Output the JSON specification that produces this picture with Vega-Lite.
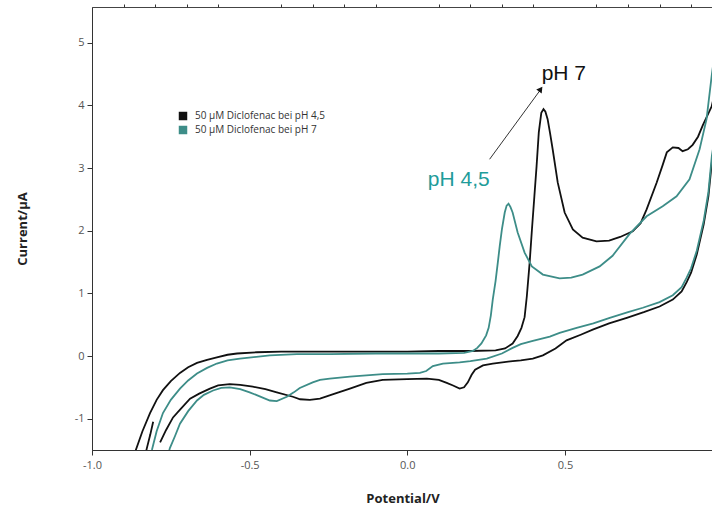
{
  "$schema": "https://vega.github.io/schema/vega-lite/v6.json",
  "autosize": {"type": "none"},
  "padding": {"left": 92, "top": 7, "right": 0, "bottom": 61},
  "width": 621,
  "height": 443,
  "config": {
    "view": {"stroke": "#444", "strokeWidth": 1},
    "axis": {"labelFont": "Open Sans", "labelFontSize": 11, "labelColor": "#555", "titleFont": "Open Sans", "titleFontSize": 13, "titleFontWeight": "bold", "titleColor": "#222", "domainColor": "#333", "tickColor": "#333", "grid": false, "labelOverlap": false, "labelFlush": false}
  },
  "resolve": {"axis": {"x": "independent", "y": "independent"}},
  "datasets": {
    "cv": [
      {"s":"50 µM Diclofenac bei pH 4,5","i":1,"x":-0.806,"y":-1.05},
      {"s":"50 µM Diclofenac bei pH 4,5","i":2,"x":-0.815,"y":-1.25},
      {"s":"50 µM Diclofenac bei pH 4,5","i":3,"x":-0.826,"y":-1.47},
      {"s":"50 µM Diclofenac bei pH 4,5","i":4,"x":-0.833,"y":-1.62},
      {"s":"50 µM Diclofenac bei pH 4,5","i":5,"x":-0.85,"y":-1.8},
      {"s":"50 µM Diclofenac bei pH 4,5","i":6,"x":-0.875,"y":-1.8},
      {"s":"50 µM Diclofenac bei pH 4,5","i":7,"x":-0.868,"y":-1.62},
      {"s":"50 µM Diclofenac bei pH 4,5","i":8,"x":-0.861,"y":-1.5},
      {"s":"50 µM Diclofenac bei pH 4,5","i":9,"x":-0.84,"y":-1.2},
      {"s":"50 µM Diclofenac bei pH 4,5","i":10,"x":-0.816,"y":-0.91},
      {"s":"50 µM Diclofenac bei pH 4,5","i":11,"x":-0.795,"y":-0.7},
      {"s":"50 µM Diclofenac bei pH 4,5","i":12,"x":-0.775,"y":-0.545},
      {"s":"50 µM Diclofenac bei pH 4,5","i":13,"x":-0.75,"y":-0.4},
      {"s":"50 µM Diclofenac bei pH 4,5","i":14,"x":-0.721,"y":-0.27},
      {"s":"50 µM Diclofenac bei pH 4,5","i":15,"x":-0.695,"y":-0.18},
      {"s":"50 µM Diclofenac bei pH 4,5","i":16,"x":-0.667,"y":-0.11},
      {"s":"50 µM Diclofenac bei pH 4,5","i":17,"x":-0.635,"y":-0.06},
      {"s":"50 µM Diclofenac bei pH 4,5","i":18,"x":-0.604,"y":-0.02},
      {"s":"50 µM Diclofenac bei pH 4,5","i":19,"x":-0.57,"y":0.02},
      {"s":"50 µM Diclofenac bei pH 4,5","i":20,"x":-0.54,"y":0.04},
      {"s":"50 µM Diclofenac bei pH 4,5","i":21,"x":-0.477,"y":0.06},
      {"s":"50 µM Diclofenac bei pH 4,5","i":22,"x":-0.4,"y":0.07},
      {"s":"50 µM Diclofenac bei pH 4,5","i":23,"x":-0.3,"y":0.07},
      {"s":"50 µM Diclofenac bei pH 4,5","i":24,"x":-0.2,"y":0.07},
      {"s":"50 µM Diclofenac bei pH 4,5","i":25,"x":-0.1,"y":0.07},
      {"s":"50 µM Diclofenac bei pH 4,5","i":26,"x":0.0,"y":0.07},
      {"s":"50 µM Diclofenac bei pH 4,5","i":27,"x":0.1,"y":0.08},
      {"s":"50 µM Diclofenac bei pH 4,5","i":28,"x":0.2,"y":0.08},
      {"s":"50 µM Diclofenac bei pH 4,5","i":29,"x":0.28,"y":0.09},
      {"s":"50 µM Diclofenac bei pH 4,5","i":30,"x":0.31,"y":0.12},
      {"s":"50 µM Diclofenac bei pH 4,5","i":31,"x":0.334,"y":0.2},
      {"s":"50 µM Diclofenac bei pH 4,5","i":32,"x":0.35,"y":0.32},
      {"s":"50 µM Diclofenac bei pH 4,5","i":33,"x":0.362,"y":0.45},
      {"s":"50 µM Diclofenac bei pH 4,5","i":34,"x":0.372,"y":0.62},
      {"s":"50 µM Diclofenac bei pH 4,5","i":35,"x":0.379,"y":0.95},
      {"s":"50 µM Diclofenac bei pH 4,5","i":36,"x":0.388,"y":1.49},
      {"s":"50 µM Diclofenac bei pH 4,5","i":37,"x":0.395,"y":2.0},
      {"s":"50 µM Diclofenac bei pH 4,5","i":38,"x":0.403,"y":2.55},
      {"s":"50 µM Diclofenac bei pH 4,5","i":39,"x":0.41,"y":3.03},
      {"s":"50 µM Diclofenac bei pH 4,5","i":40,"x":0.417,"y":3.57},
      {"s":"50 µM Diclofenac bei pH 4,5","i":41,"x":0.425,"y":3.88},
      {"s":"50 µM Diclofenac bei pH 4,5","i":42,"x":0.432,"y":3.94},
      {"s":"50 µM Diclofenac bei pH 4,5","i":43,"x":0.438,"y":3.9},
      {"s":"50 µM Diclofenac bei pH 4,5","i":44,"x":0.445,"y":3.78},
      {"s":"50 µM Diclofenac bei pH 4,5","i":45,"x":0.453,"y":3.55},
      {"s":"50 µM Diclofenac bei pH 4,5","i":46,"x":0.461,"y":3.3},
      {"s":"50 µM Diclofenac bei pH 4,5","i":47,"x":0.477,"y":2.77},
      {"s":"50 µM Diclofenac bei pH 4,5","i":48,"x":0.499,"y":2.29},
      {"s":"50 µM Diclofenac bei pH 4,5","i":49,"x":0.525,"y":2.02},
      {"s":"50 µM Diclofenac bei pH 4,5","i":50,"x":0.556,"y":1.89},
      {"s":"50 µM Diclofenac bei pH 4,5","i":51,"x":0.6,"y":1.83},
      {"s":"50 µM Diclofenac bei pH 4,5","i":52,"x":0.64,"y":1.84},
      {"s":"50 µM Diclofenac bei pH 4,5","i":53,"x":0.675,"y":1.9},
      {"s":"50 µM Diclofenac bei pH 4,5","i":54,"x":0.715,"y":1.99},
      {"s":"50 µM Diclofenac bei pH 4,5","i":55,"x":0.74,"y":2.12},
      {"s":"50 µM Diclofenac bei pH 4,5","i":56,"x":0.759,"y":2.34},
      {"s":"50 µM Diclofenac bei pH 4,5","i":57,"x":0.791,"y":2.77},
      {"s":"50 µM Diclofenac bei pH 4,5","i":58,"x":0.81,"y":3.05},
      {"s":"50 µM Diclofenac bei pH 4,5","i":59,"x":0.823,"y":3.25},
      {"s":"50 µM Diclofenac bei pH 4,5","i":60,"x":0.842,"y":3.33},
      {"s":"50 µM Diclofenac bei pH 4,5","i":61,"x":0.86,"y":3.32},
      {"s":"50 µM Diclofenac bei pH 4,5","i":62,"x":0.873,"y":3.27},
      {"s":"50 µM Diclofenac bei pH 4,5","i":63,"x":0.89,"y":3.3},
      {"s":"50 µM Diclofenac bei pH 4,5","i":64,"x":0.905,"y":3.37},
      {"s":"50 µM Diclofenac bei pH 4,5","i":65,"x":0.922,"y":3.5},
      {"s":"50 µM Diclofenac bei pH 4,5","i":66,"x":0.937,"y":3.68},
      {"s":"50 µM Diclofenac bei pH 4,5","i":67,"x":0.965,"y":3.98},
      {"s":"50 µM Diclofenac bei pH 4,5","i":68,"x":0.99,"y":4.5},
      {"s":"50 µM Diclofenac bei pH 4,5","i":69,"x":1.01,"y":4.0},
      {"s":"50 µM Diclofenac bei pH 4,5","i":70,"x":0.985,"y":3.6},
      {"s":"50 µM Diclofenac bei pH 4,5","i":71,"x":0.966,"y":3.1},
      {"s":"50 µM Diclofenac bei pH 4,5","i":72,"x":0.955,"y":2.55},
      {"s":"50 µM Diclofenac bei pH 4,5","i":73,"x":0.94,"y":2.1},
      {"s":"50 µM Diclofenac bei pH 4,5","i":74,"x":0.918,"y":1.62},
      {"s":"50 µM Diclofenac bei pH 4,5","i":75,"x":0.9,"y":1.33},
      {"s":"50 µM Diclofenac bei pH 4,5","i":76,"x":0.886,"y":1.18},
      {"s":"50 µM Diclofenac bei pH 4,5","i":77,"x":0.87,"y":1.03},
      {"s":"50 µM Diclofenac bei pH 4,5","i":78,"x":0.842,"y":0.9},
      {"s":"50 µM Diclofenac bei pH 4,5","i":79,"x":0.8,"y":0.79},
      {"s":"50 µM Diclofenac bei pH 4,5","i":80,"x":0.75,"y":0.7},
      {"s":"50 µM Diclofenac bei pH 4,5","i":81,"x":0.696,"y":0.61},
      {"s":"50 µM Diclofenac bei pH 4,5","i":82,"x":0.64,"y":0.52},
      {"s":"50 µM Diclofenac bei pH 4,5","i":83,"x":0.588,"y":0.42},
      {"s":"50 µM Diclofenac bei pH 4,5","i":84,"x":0.55,"y":0.34},
      {"s":"50 µM Diclofenac bei pH 4,5","i":85,"x":0.505,"y":0.25},
      {"s":"50 µM Diclofenac bei pH 4,5","i":86,"x":0.47,"y":0.12},
      {"s":"50 µM Diclofenac bei pH 4,5","i":87,"x":0.43,"y":0.01},
      {"s":"50 µM Diclofenac bei pH 4,5","i":88,"x":0.398,"y":-0.04},
      {"s":"50 µM Diclofenac bei pH 4,5","i":89,"x":0.36,"y":-0.07},
      {"s":"50 µM Diclofenac bei pH 4,5","i":90,"x":0.334,"y":-0.08},
      {"s":"50 µM Diclofenac bei pH 4,5","i":91,"x":0.271,"y":-0.12},
      {"s":"50 µM Diclofenac bei pH 4,5","i":92,"x":0.24,"y":-0.15},
      {"s":"50 µM Diclofenac bei pH 4,5","i":93,"x":0.215,"y":-0.22},
      {"s":"50 µM Diclofenac bei pH 4,5","i":94,"x":0.204,"y":-0.3},
      {"s":"50 µM Diclofenac bei pH 4,5","i":95,"x":0.192,"y":-0.42},
      {"s":"50 µM Diclofenac bei pH 4,5","i":96,"x":0.18,"y":-0.5},
      {"s":"50 µM Diclofenac bei pH 4,5","i":97,"x":0.166,"y":-0.52},
      {"s":"50 µM Diclofenac bei pH 4,5","i":98,"x":0.145,"y":-0.47},
      {"s":"50 µM Diclofenac bei pH 4,5","i":99,"x":0.125,"y":-0.43},
      {"s":"50 µM Diclofenac bei pH 4,5","i":100,"x":0.1,"y":-0.38},
      {"s":"50 µM Diclofenac bei pH 4,5","i":101,"x":0.062,"y":-0.36},
      {"s":"50 µM Diclofenac bei pH 4,5","i":102,"x":0.0,"y":-0.37},
      {"s":"50 µM Diclofenac bei pH 4,5","i":103,"x":-0.078,"y":-0.38},
      {"s":"50 µM Diclofenac bei pH 4,5","i":104,"x":-0.13,"y":-0.43},
      {"s":"50 µM Diclofenac bei pH 4,5","i":105,"x":-0.182,"y":-0.52},
      {"s":"50 µM Diclofenac bei pH 4,5","i":106,"x":-0.23,"y":-0.6},
      {"s":"50 µM Diclofenac bei pH 4,5","i":107,"x":-0.277,"y":-0.68},
      {"s":"50 µM Diclofenac bei pH 4,5","i":108,"x":-0.309,"y":-0.7},
      {"s":"50 µM Diclofenac bei pH 4,5","i":109,"x":-0.34,"y":-0.69},
      {"s":"50 µM Diclofenac bei pH 4,5","i":110,"x":-0.363,"y":-0.65},
      {"s":"50 µM Diclofenac bei pH 4,5","i":111,"x":-0.414,"y":-0.58},
      {"s":"50 µM Diclofenac bei pH 4,5","i":112,"x":-0.45,"y":-0.53},
      {"s":"50 µM Diclofenac bei pH 4,5","i":113,"x":-0.49,"y":-0.49},
      {"s":"50 µM Diclofenac bei pH 4,5","i":114,"x":-0.53,"y":-0.46},
      {"s":"50 µM Diclofenac bei pH 4,5","i":115,"x":-0.563,"y":-0.45},
      {"s":"50 µM Diclofenac bei pH 4,5","i":116,"x":-0.6,"y":-0.47},
      {"s":"50 µM Diclofenac bei pH 4,5","i":117,"x":-0.626,"y":-0.52},
      {"s":"50 µM Diclofenac bei pH 4,5","i":118,"x":-0.66,"y":-0.6},
      {"s":"50 µM Diclofenac bei pH 4,5","i":119,"x":-0.689,"y":-0.68},
      {"s":"50 µM Diclofenac bei pH 4,5","i":120,"x":-0.72,"y":-0.85},
      {"s":"50 µM Diclofenac bei pH 4,5","i":121,"x":-0.743,"y":-0.98},
      {"s":"50 µM Diclofenac bei pH 4,5","i":122,"x":-0.765,"y":-1.18},
      {"s":"50 µM Diclofenac bei pH 4,5","i":123,"x":-0.784,"y":-1.38},
      {"s":"50 µM Diclofenac bei pH 7","i":1,"x":-0.84,"y":-1.85},
      {"s":"50 µM Diclofenac bei pH 7","i":2,"x":-0.81,"y":-1.5},
      {"s":"50 µM Diclofenac bei pH 7","i":3,"x":-0.795,"y":-1.2},
      {"s":"50 µM Diclofenac bei pH 7","i":4,"x":-0.775,"y":-0.91},
      {"s":"50 µM Diclofenac bei pH 7","i":5,"x":-0.75,"y":-0.7},
      {"s":"50 µM Diclofenac bei pH 7","i":6,"x":-0.721,"y":-0.52},
      {"s":"50 µM Diclofenac bei pH 7","i":7,"x":-0.695,"y":-0.39},
      {"s":"50 µM Diclofenac bei pH 7","i":8,"x":-0.667,"y":-0.28},
      {"s":"50 µM Diclofenac bei pH 7","i":9,"x":-0.635,"y":-0.19},
      {"s":"50 µM Diclofenac bei pH 7","i":10,"x":-0.604,"y":-0.12},
      {"s":"50 µM Diclofenac bei pH 7","i":11,"x":-0.57,"y":-0.07},
      {"s":"50 µM Diclofenac bei pH 7","i":12,"x":-0.531,"y":-0.04},
      {"s":"50 µM Diclofenac bei pH 7","i":13,"x":-0.436,"y":0.01},
      {"s":"50 µM Diclofenac bei pH 7","i":14,"x":-0.35,"y":0.03},
      {"s":"50 µM Diclofenac bei pH 7","i":15,"x":-0.246,"y":0.03},
      {"s":"50 µM Diclofenac bei pH 7","i":16,"x":-0.1,"y":0.04},
      {"s":"50 µM Diclofenac bei pH 7","i":17,"x":0.0,"y":0.04},
      {"s":"50 µM Diclofenac bei pH 7","i":18,"x":0.1,"y":0.04},
      {"s":"50 µM Diclofenac bei pH 7","i":19,"x":0.18,"y":0.05},
      {"s":"50 µM Diclofenac bei pH 7","i":20,"x":0.208,"y":0.08},
      {"s":"50 µM Diclofenac bei pH 7","i":21,"x":0.222,"y":0.13},
      {"s":"50 µM Diclofenac bei pH 7","i":22,"x":0.235,"y":0.2},
      {"s":"50 µM Diclofenac bei pH 7","i":23,"x":0.25,"y":0.33},
      {"s":"50 µM Diclofenac bei pH 7","i":24,"x":0.258,"y":0.45},
      {"s":"50 µM Diclofenac bei pH 7","i":25,"x":0.265,"y":0.65},
      {"s":"50 µM Diclofenac bei pH 7","i":26,"x":0.271,"y":0.9},
      {"s":"50 µM Diclofenac bei pH 7","i":27,"x":0.28,"y":1.2},
      {"s":"50 µM Diclofenac bei pH 7","i":28,"x":0.287,"y":1.49},
      {"s":"50 µM Diclofenac bei pH 7","i":29,"x":0.293,"y":1.75},
      {"s":"50 µM Diclofenac bei pH 7","i":30,"x":0.3,"y":2.02},
      {"s":"50 µM Diclofenac bei pH 7","i":31,"x":0.309,"y":2.29},
      {"s":"50 µM Diclofenac bei pH 7","i":32,"x":0.315,"y":2.4},
      {"s":"50 µM Diclofenac bei pH 7","i":33,"x":0.321,"y":2.43},
      {"s":"50 µM Diclofenac bei pH 7","i":34,"x":0.327,"y":2.38},
      {"s":"50 µM Diclofenac bei pH 7","i":35,"x":0.334,"y":2.29},
      {"s":"50 µM Diclofenac bei pH 7","i":36,"x":0.35,"y":1.97},
      {"s":"50 µM Diclofenac bei pH 7","i":37,"x":0.372,"y":1.65},
      {"s":"50 µM Diclofenac bei pH 7","i":38,"x":0.395,"y":1.43},
      {"s":"50 µM Diclofenac bei pH 7","i":39,"x":0.43,"y":1.3},
      {"s":"50 µM Diclofenac bei pH 7","i":40,"x":0.483,"y":1.24},
      {"s":"50 µM Diclofenac bei pH 7","i":41,"x":0.52,"y":1.25},
      {"s":"50 µM Diclofenac bei pH 7","i":42,"x":0.556,"y":1.3},
      {"s":"50 µM Diclofenac bei pH 7","i":43,"x":0.61,"y":1.43},
      {"s":"50 µM Diclofenac bei pH 7","i":44,"x":0.651,"y":1.6},
      {"s":"50 µM Diclofenac bei pH 7","i":45,"x":0.705,"y":1.95},
      {"s":"50 µM Diclofenac bei pH 7","i":46,"x":0.759,"y":2.23},
      {"s":"50 µM Diclofenac bei pH 7","i":47,"x":0.81,"y":2.39},
      {"s":"50 µM Diclofenac bei pH 7","i":48,"x":0.854,"y":2.55},
      {"s":"50 µM Diclofenac bei pH 7","i":49,"x":0.895,"y":2.82},
      {"s":"50 µM Diclofenac bei pH 7","i":50,"x":0.927,"y":3.3},
      {"s":"50 µM Diclofenac bei pH 7","i":51,"x":0.949,"y":3.78},
      {"s":"50 µM Diclofenac bei pH 7","i":52,"x":0.966,"y":4.5},
      {"s":"50 µM Diclofenac bei pH 7","i":53,"x":0.98,"y":5.0},
      {"s":"50 µM Diclofenac bei pH 7","i":54,"x":1.0,"y":4.5},
      {"s":"50 µM Diclofenac bei pH 7","i":55,"x":0.985,"y":3.8},
      {"s":"50 µM Diclofenac bei pH 7","i":56,"x":0.966,"y":3.2},
      {"s":"50 µM Diclofenac bei pH 7","i":57,"x":0.955,"y":2.62},
      {"s":"50 µM Diclofenac bei pH 7","i":58,"x":0.94,"y":2.16},
      {"s":"50 µM Diclofenac bei pH 7","i":59,"x":0.918,"y":1.68},
      {"s":"50 µM Diclofenac bei pH 7","i":60,"x":0.9,"y":1.4},
      {"s":"50 µM Diclofenac bei pH 7","i":61,"x":0.886,"y":1.25},
      {"s":"50 µM Diclofenac bei pH 7","i":62,"x":0.87,"y":1.1},
      {"s":"50 µM Diclofenac bei pH 7","i":63,"x":0.842,"y":0.97},
      {"s":"50 µM Diclofenac bei pH 7","i":64,"x":0.8,"y":0.86},
      {"s":"50 µM Diclofenac bei pH 7","i":65,"x":0.747,"y":0.77},
      {"s":"50 µM Diclofenac bei pH 7","i":66,"x":0.7,"y":0.7},
      {"s":"50 µM Diclofenac bei pH 7","i":67,"x":0.642,"y":0.61},
      {"s":"50 µM Diclofenac bei pH 7","i":68,"x":0.59,"y":0.52},
      {"s":"50 µM Diclofenac bei pH 7","i":69,"x":0.537,"y":0.45},
      {"s":"50 µM Diclofenac bei pH 7","i":70,"x":0.483,"y":0.37},
      {"s":"50 µM Diclofenac bei pH 7","i":71,"x":0.452,"y":0.31},
      {"s":"50 µM Diclofenac bei pH 7","i":72,"x":0.398,"y":0.24},
      {"s":"50 µM Diclofenac bei pH 7","i":73,"x":0.36,"y":0.19},
      {"s":"50 µM Diclofenac bei pH 7","i":74,"x":0.334,"y":0.13},
      {"s":"50 µM Diclofenac bei pH 7","i":75,"x":0.3,"y":0.04},
      {"s":"50 µM Diclofenac bei pH 7","i":76,"x":0.252,"y":-0.04},
      {"s":"50 µM Diclofenac bei pH 7","i":77,"x":0.2,"y":-0.08},
      {"s":"50 µM Diclofenac bei pH 7","i":78,"x":0.166,"y":-0.1},
      {"s":"50 µM Diclofenac bei pH 7","i":79,"x":0.113,"y":-0.12},
      {"s":"50 µM Diclofenac bei pH 7","i":80,"x":0.081,"y":-0.16},
      {"s":"50 µM Diclofenac bei pH 7","i":81,"x":0.06,"y":-0.24},
      {"s":"50 µM Diclofenac bei pH 7","i":82,"x":0.04,"y":-0.27},
      {"s":"50 µM Diclofenac bei pH 7","i":83,"x":0.0,"y":-0.28},
      {"s":"50 µM Diclofenac bei pH 7","i":84,"x":-0.078,"y":-0.29},
      {"s":"50 µM Diclofenac bei pH 7","i":85,"x":-0.182,"y":-0.33},
      {"s":"50 µM Diclofenac bei pH 7","i":86,"x":-0.246,"y":-0.36},
      {"s":"50 µM Diclofenac bei pH 7","i":87,"x":-0.277,"y":-0.38},
      {"s":"50 µM Diclofenac bei pH 7","i":88,"x":-0.3,"y":-0.42},
      {"s":"50 µM Diclofenac bei pH 7","i":89,"x":-0.341,"y":-0.51},
      {"s":"50 µM Diclofenac bei pH 7","i":90,"x":-0.36,"y":-0.58},
      {"s":"50 µM Diclofenac bei pH 7","i":91,"x":-0.382,"y":-0.65},
      {"s":"50 µM Diclofenac bei pH 7","i":92,"x":-0.414,"y":-0.72},
      {"s":"50 µM Diclofenac bei pH 7","i":93,"x":-0.436,"y":-0.71},
      {"s":"50 µM Diclofenac bei pH 7","i":94,"x":-0.47,"y":-0.64},
      {"s":"50 µM Diclofenac bei pH 7","i":95,"x":-0.5,"y":-0.58},
      {"s":"50 µM Diclofenac bei pH 7","i":96,"x":-0.53,"y":-0.53},
      {"s":"50 µM Diclofenac bei pH 7","i":97,"x":-0.563,"y":-0.5},
      {"s":"50 µM Diclofenac bei pH 7","i":98,"x":-0.59,"y":-0.51},
      {"s":"50 µM Diclofenac bei pH 7","i":99,"x":-0.616,"y":-0.55},
      {"s":"50 µM Diclofenac bei pH 7","i":100,"x":-0.645,"y":-0.62},
      {"s":"50 µM Diclofenac bei pH 7","i":101,"x":-0.667,"y":-0.71},
      {"s":"50 µM Diclofenac bei pH 7","i":102,"x":-0.695,"y":-0.88},
      {"s":"50 µM Diclofenac bei pH 7","i":103,"x":-0.721,"y":-1.08},
      {"s":"50 µM Diclofenac bei pH 7","i":104,"x":-0.737,"y":-1.28},
      {"s":"50 µM Diclofenac bei pH 7","i":105,"x":-0.753,"y":-1.47},
      {"s":"50 µM Diclofenac bei pH 7","i":106,"x":-0.76,"y":-1.6}
    ],
    "arrow": [{"x": 0.261, "y": 3.14, "x2": 0.421, "y2": 4.24}],
    "tip": [{"x": 0.423, "y": 4.26}],
    "lab7": [{"x": 0.426, "y": 4.41, "t": "pH 7"}],
    "lab45": [{"x": 0.065, "y": 2.71, "t": "pH 4,5"}]
  },
  "layer": [
    {
      "data": {"name": "cv"},
      "mark": {"type": "line", "strokeWidth": 1.8, "clip": true},
      "encoding": {
        "x": {
          "field": "x", "type": "quantitative",
          "scale": {"domain": [-1, 0.9695], "nice": false, "zero": false},
          "axis": {
            "title": "Potential/V",
            "titlePadding": 22,
            "values": [-1, -0.5, 0, 0.5],
            "labelExpr": "datum.value < -0.001 ? '-' + format(-datum.value,'.1f') : format(abs(datum.value),'.1f')",
            "tickSize": 5,
            "labelPadding": 4
          }
        },
        "y": {
          "field": "y", "type": "quantitative",
          "scale": {"domain": [-1.5, 5.57], "nice": false, "zero": false},
          "axis": {
            "title": "Current/µA",
            "titlePadding": 45,
            "values": [-1, 0, 1, 2, 3, 4, 5],
            "labelExpr": "datum.value < -0.5 ? '-' + format(-datum.value,'d') : format(abs(datum.value),'d')",
            "tickSize": 5,
            "labelPadding": 3
          }
        },
        "color": {
          "field": "s", "type": "nominal",
          "scale": {"domain": ["50 µM Diclofenac bei pH 4,5", "50 µM Diclofenac bei pH 7"], "range": ["#111111", "#3d8d88"]},
          "legend": {
            "orient": "none", "legendX": 86, "legendY": 104, "title": null,
            "symbolType": "square", "symbolSize": 72, "symbolStrokeWidth": 0,
            "labelFont": "Open Sans", "labelFontSize": 10, "labelColor": "#333", "labelOffset": 7, "rowPadding": 4,
            "encode": {"symbols": {"update": {"fill": {"field": "value", "scale": "color"}, "strokeWidth": {"value": 0}}}}
          }
        },
        "order": {"field": "i", "type": "quantitative"}
      }
    },
    {
      "data": {"name": "arrow"},
      "mark": {"type": "rule", "stroke": "#333", "strokeWidth": 1},
      "encoding": {
        "x": {"field": "x", "type": "quantitative", "axis": null},
        "y": {"field": "y", "type": "quantitative", "axis": null},
        "x2": {"field": "x2"},
        "y2": {"field": "y2"}
      }
    },
    {
      "data": {"name": "tip"},
      "mark": {"type": "point", "shape": "triangle-up", "filled": true, "color": "#111", "opacity": 1, "size": 45, "angle": 36},
      "encoding": {
        "x": {"field": "x", "type": "quantitative", "axis": null},
        "y": {"field": "y", "type": "quantitative", "axis": null}
      }
    },
    {
      "data": {"name": "lab7"},
      "mark": {"type": "text", "font": "Liberation Sans", "fontSize": 21, "color": "#111", "align": "left", "baseline": "alphabetic"},
      "encoding": {
        "x": {"field": "x", "type": "quantitative", "axis": null},
        "y": {"field": "y", "type": "quantitative", "axis": null},
        "text": {"field": "t"}
      }
    },
    {
      "data": {"name": "lab45"},
      "mark": {"type": "text", "font": "Liberation Sans", "fontSize": 21, "color": "#1f9c9a", "align": "left", "baseline": "alphabetic"},
      "encoding": {
        "x": {"field": "x", "type": "quantitative", "axis": {"title": null, "labels": false, "domain": false, "tickSize": 3, "values": [-0.9,-0.8,-0.7,-0.6,-0.4,-0.3,-0.2,-0.1,0.1,0.2,0.3,0.4,0.6,0.7,0.8,0.9]}},
        "y": {"field": "y", "type": "quantitative", "axis": {"title": null, "labels": false, "domain": false, "tickSize": 3, "values": [-1.4,-1.3,-1.2,-1.1,-0.9,-0.8,-0.7,-0.6,-0.5,-0.4,-0.3,-0.2,-0.1,0.1,0.2,0.3,0.4,0.5,0.6,0.7,0.8,0.9,1.1,1.2,1.3,1.4,1.5,1.6,1.7,1.8,1.9,2.1,2.2,2.3,2.4,2.5,2.6,2.7,2.8,2.9,3.1,3.2,3.3,3.4,3.5,3.6,3.7,3.8,3.9,4.1,4.2,4.3,4.4,4.5,4.6,4.7,4.8,4.9,5.1,5.2,5.3,5.4,5.5]}},
        "text": {"field": "t"}
      }
    }
  ]
}
